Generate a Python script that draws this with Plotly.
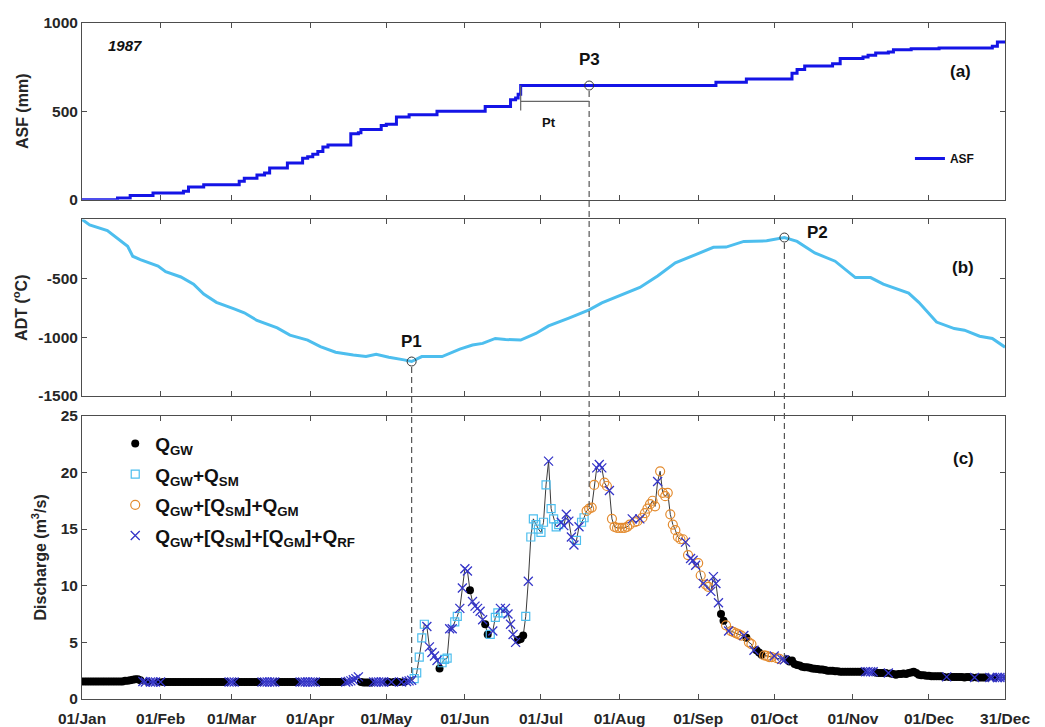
import pandas as pd
import plotly.graph_objects as go

# ---------------- DATA ----------------
YEAR_START = "1987-01-01"

# (a) Accumulated snowfall (ASF, mm): step changes (day-of-year index, value)
asf_day = [0, 14, 19, 28, 40, 42, 48, 62, 64, 69, 72, 74, 81, 87, 89, 91, 93, 95, 97, 106,
           109, 110, 118, 120, 124, 129, 140, 159, 169, 171, 172, 173, 250, 262, 280, 282, 285,
           296, 299, 308, 310, 313, 318, 320, 327, 338, 359, 361, 364]
asf_val = [0, 10, 24, 37, 47, 71, 84, 104, 121, 140, 151, 179, 207, 235, 243, 257, 272, 298, 310, 373,
           379, 397, 420, 427, 468, 481, 500, 528, 565, 575, 597, 646, 664, 683, 715, 737, 757,
           770, 799, 808, 817, 830, 836, 849, 854, 858, 869, 892, 897]

# (b) Accumulated degree temperature (ADT, °C)
adt_day = [0, 3, 10, 14, 18, 20, 23, 30, 33, 39, 44, 48, 53, 60, 64, 69, 77, 82, 89, 94,
           100, 107, 112, 116, 121, 127, 130, 134, 142, 149, 154, 158, 163, 167, 173, 179, 184, 192, 200, 205,
           213, 220, 227, 234, 242, 249, 254, 261, 270, 277, 282, 289, 297, 305, 311, 316, 326, 330, 337, 344,
           348, 354, 359, 364]
adt_val = [0, -47, -95, -159, -229, -313, -341, -397, -444, -489, -550, -634, -704, -760, -793, -858, -922, -983, -1025, -1081,
           -1128, -1151, -1165, -1145, -1170, -1193, -1207, -1165, -1165, -1101, -1067, -1053, -1011, -1020, -1025, -969, -905, -838, -768, -709,
           -642, -578, -480, -369, -299, -237, -235, -187, -182, -154, -187, -285, -355, -494, -494, -550, -626, -704, -872, -927,
           -941, -992, -1011, -1085]

# (c) Daily discharge (m3/s) by month, and the component class of each day
# G = Q_GW, S = Q_GW+Q_SM, M = Q_GW+[Q_SM]+Q_GM, R = Q_GW+[Q_SM]+[Q_GM]+Q_RF
q_jan = [1.55, 1.55, 1.55, 1.55, 1.55, 1.55, 1.55, 1.55, 1.55, 1.55, 1.55, 1.55, 1.55, 1.55, 1.55, 1.55,
         1.55, 1.6, 1.6, 1.65, 1.7, 1.75, 1.75, 1.65, 1.55, 1.5, 1.5, 1.5, 1.5, 1.5, 1.5]
q_feb = [1.5, 1.5, 1.5, 1.5, 1.5, 1.5, 1.5, 1.5, 1.5, 1.5, 1.5, 1.5, 1.5, 1.5, 1.5, 1.5, 1.5, 1.5, 1.5, 1.5,
         1.5, 1.5, 1.5, 1.5, 1.5, 1.5, 1.5, 1.5]
q_mar = [1.5, 1.5, 1.5, 1.5, 1.5, 1.5, 1.5, 1.5, 1.5, 1.5, 1.5, 1.5, 1.5, 1.5, 1.5, 1.5, 1.5, 1.5, 1.5, 1.5,
         1.5, 1.5, 1.5, 1.5, 1.5, 1.5, 1.5, 1.5, 1.5, 1.5, 1.5]
q_apr = [1.5, 1.5, 1.5, 1.5, 1.5, 1.5, 1.5, 1.5, 1.5, 1.5, 1.5, 1.5, 1.5, 1.5, 1.5, 1.55, 1.6, 1.7, 1.8, 1.95,
         1.5, 1.45, 1.45, 1.45, 1.45, 1.5, 1.5, 1.5, 1.5, 1.5]
q_may = [1.5, 1.5, 1.5, 1.5, 1.5, 1.5, 1.5, 1.5, 1.55, 1.6, 1.65, 1.8, 2.3, 3.7, 5.4, 6.6, 6.4, 4.6, 4.1, 3.8,
         3.4, 2.7, 3.2, 3.5, 3.6, 6.2, 6.2, 6.8, 7.3, 8.0, 9.8]
q_jun = [11.5, 11.3, 9.6, 8.6, 8.2, 8.0, 7.75, 7.0, 6.6, 5.7, 5.7, 6.0, 7.2, 7.6, 8.0, 7.6, 8.0, 7.5, 6.6, 5.7,
         5.0, 5.2, 5.3, 5.6, 7.3, 10.4, 14.3, 15.9, 15.4, 15.0]
q_jul = [14.7, 15.6, 18.9, 21.0, 16.8, 15.9, 15.2, 15.4, 15.6, 15.3, 16.3, 15.7, 14.3, 13.6, 14.0, 15.2, 15.6, 16.0, 16.6, 16.8,
         16.9, 18.9, 20.4, 20.7, 20.4, 19.1, 18.8, 18.4, 15.9, 15.2, 15.1]
q_aug = [15.1, 15.1, 15.1, 15.2, 15.4, 15.9, 15.6, 15.7, 15.9, 16.0, 16.4, 16.8, 17.2, 17.5, 17.0, 19.2, 20.1, 18.2, 17.9, 18.2,
         16.3, 15.4, 14.9, 14.3, 14.1, 14.1, 13.85, 12.7, 12.4, 12.25, 11.8]
q_sep = [12.0, 10.9, 10.2, 10.1, 9.9, 9.5, 10.8, 10.2, 8.5, 7.5, 6.9, 6.5, 6.0, 6.0, 5.9, 5.8, 5.7, 5.6, 5.6, 5.4,
         5.0, 4.85, 4.3, 4.3, 4.1, 3.9, 3.85, 3.8, 3.7, 3.7]
q_oct = [3.8, 3.6, 3.55, 3.5, 3.45, 3.5, 3.3, 3.4, 3.1, 3.0, 2.95, 2.85, 2.8, 2.8, 2.75, 2.7, 2.67, 2.65, 2.6, 2.6,
         2.55, 2.5, 2.5, 2.5, 2.45, 2.45, 2.4, 2.4, 2.4, 2.4, 2.4]
q_nov = [2.4, 2.4, 2.4, 2.4, 2.4, 2.4, 2.4, 2.4, 2.4, 2.35, 2.3, 2.3, 2.3, 2.3, 2.3, 2.25, 2.2, 2.15, 2.2, 2.2,
         2.25, 2.2, 2.3, 2.35, 2.4, 2.3, 2.15, 2.1, 2.1, 2.05]
q_dec = [2.05, 2.0, 2.0, 2.0, 2.0, 2.0, 1.95, 1.95, 1.95, 1.95, 1.95, 1.95, 1.95, 1.95, 1.9, 1.95, 1.95, 1.9, 1.9, 1.9,
         1.9, 1.9, 1.9, 1.9, 1.9, 1.9, 1.9, 1.9, 1.9, 1.9, 1.9]

c_jan = "GGGGGGGGGGGGGGGGGGGGGGGG" + "RRGRRRG"
c_feb = "RGGGGGGGGGGGGGGGGGGGGGGGGGGR"
c_mar = "RRGGGGGGGGGGRRRRRRGGGGGGGGGRRRR"
c_apr = "RRRGGGGGGGGGGGRRRRRRGGGGGRRRRR"
c_may = "GGRGGGRGRR" + "RSSSSSRRRR" + "RGSSSRRSSR" + "R"
c_jun = "RRGRRRRRGG" + "SRSSRSRRRR" + "RGGGSRSSSS"
c_jul = "SSSRSSSSRR" + "RRRRSRSSMM" + "MMRRRMMRMM" + "M"
c_aug = "MMMMMRMMRM" + "MMMMMRMMMM" + "MMMMMMRMRR" + "R"
c_sep = "MMRMMRRRRG" + "GMRMMMMMRG" + "MMRGGGMMMM"
c_oct = "RMMRRGGGGG" + "GGGGGGGGGG" + "GGGGGGGGGG" + "G"
c_nov = "GGGGGRRRRGGGGGRGGGGGGGGGGGGGGG"
c_dec = "GGGGGGGRGGGGGGGGGGRGGGGGRRGRRRR"

# Key points (day-of-year index)
p1_day, p2_day, p3_day = 130, 277, 200

month_ticks = ["1987-01-01", "1987-02-01", "1987-03-01", "1987-04-01", "1987-05-01", "1987-06-01",
               "1987-07-01", "1987-08-01", "1987-09-01", "1987-10-01", "1987-11-01", "1987-12-01", "1987-12-31"]
month_labels = ["01/Jan", "01/Feb", "01/Mar", "01/Apr", "01/May", "01/Jun",
                "01/Jul", "01/Aug", "01/Sep", "01/Oct", "01/Nov", "01/Dec", "31/Dec"]

# ---------------- BUILD ----------------
t0 = pd.Timestamp(YEAR_START)


def to_dates(days):
    return [t0 + pd.Timedelta(days=int(d)) for d in days]


q_vals = q_jan + q_feb + q_mar + q_apr + q_may + q_jun + q_jul + q_aug + q_sep + q_oct + q_nov + q_dec
q_cats = c_jan + c_feb + c_mar + c_apr + c_may + c_jun + c_jul + c_aug + c_sep + c_oct + c_nov + c_dec
q_dates = list(pd.date_range(YEAR_START, periods=len(q_vals), freq="D"))

FONT = "Arial, Liberation Sans, sans-serif"
AX = "#4d4d4d"
C_ASF = "#1414e6"
C_ADT = "#4dbeee"
C_SM = "#4dbeee"
C_GM = "#e38b2f"
C_RF = "#3535c8"

dom_a = [0.73869, 1.0]
dom_b = [0.44818, 0.70949]
dom_c = [0.0, 0.41898]
rng_a = [0, 1000]
rng_b = [-1500, 0]
rng_c = [0, 25]


def ypaper(v, dom, rng):
    return dom[0] + (v - rng[0]) / (rng[1] - rng[0]) * (dom[1] - dom[0])


fig = go.Figure()

# (a) ASF
fig.add_trace(go.Scatter(x=to_dates(asf_day), y=asf_val, mode="lines", line=dict(color=C_ASF, width=3, shape="hv"),
                         name="ASF", xaxis="x", yaxis="y", legend="legend"))
# (b) ADT
fig.add_trace(go.Scatter(x=to_dates(adt_day), y=adt_val, mode="lines", line=dict(color=C_ADT, width=3),
                         showlegend=False, xaxis="x2", yaxis="y2"))
# (c) discharge line
fig.add_trace(go.Scatter(x=q_dates, y=q_vals, mode="lines", line=dict(color="#3a3a3a", width=1),
                         showlegend=False, xaxis="x3", yaxis="y3"))

styles = [
    ("G", "Q<sub>GW</sub>", dict(symbol="circle", size=8, color="black", line=dict(width=0))),
    ("S", "Q<sub>GW</sub>+Q<sub>SM</sub>", dict(symbol="square-open", size=8, color=C_SM, line=dict(width=1.2))),
    ("M", "Q<sub>GW</sub>+[Q<sub>SM</sub>]+Q<sub>GM</sub>", dict(symbol="circle-open", size=9, color=C_GM, line=dict(width=1.2))),
    ("R", "Q<sub>GW</sub>+[Q<sub>SM</sub>]+[Q<sub>GM</sub>]+Q<sub>RF</sub>", dict(symbol="x-thin-open", size=9, color=C_RF, line=dict(width=1.3, color=C_RF))),
]
for code, label, mk in styles:
    xs = [d for d, c in zip(q_dates, q_cats) if c == code]
    ys = [v for v, c in zip(q_vals, q_cats) if c == code]
    fig.add_trace(go.Scatter(x=xs, y=ys, mode="markers", marker=mk, name=label,
                             xaxis="x3", yaxis="y3", legend="legend2", legendgroup=code))

# Key-point circles
asf_at_p3 = [v for d, v in zip(asf_day, asf_val) if d <= p3_day][-1]
adt_at_p1 = adt_val[adt_day.index(p1_day)]
adt_at_p2 = adt_val[adt_day.index(p2_day)]
fig.add_trace(go.Scatter(x=to_dates([p3_day]), y=[asf_at_p3], mode="markers",
                         marker=dict(symbol="circle-open", size=9, color="#333", line=dict(width=1)),
                         showlegend=False, xaxis="x", yaxis="y"))
fig.add_trace(go.Scatter(x=to_dates([p1_day, p2_day]), y=[adt_at_p1, adt_at_p2], mode="markers",
                         marker=dict(symbol="circle-open", size=9, color="#333", line=dict(width=1)),
                         showlegend=False, xaxis="x2", yaxis="y2"))

# Dashed connectors down to discharge
shapes = []
for day, top_v, top_dom, top_rng in [(p1_day, adt_at_p1, dom_b, rng_b), (p2_day, adt_at_p2, dom_b, rng_b),
                                     (p3_day, asf_at_p3, dom_a, rng_a)]:
    xd = to_dates([day])[0]
    y_top = ypaper(top_v, top_dom, top_rng) - 0.008
    y_bot = ypaper(q_vals[day], dom_c, rng_c)
    shapes.append(dict(type="line", xref="x", yref="paper", x0=xd, x1=xd, y0=y_top, y1=y_bot,
                       line=dict(color="#555", width=1.2, dash="6px,4px")))

# Pt bracket
pt_start = 173
shapes.append(dict(type="line", xref="x", yref="y", x0=to_dates([pt_start])[0], x1=to_dates([p3_day])[0],
                   y0=556, y1=556, line=dict(color="#666", width=1.2)))
shapes.append(dict(type="line", xref="x", yref="y", x0=to_dates([pt_start])[0], x1=to_dates([pt_start])[0],
                   y0=646, y1=505, line=dict(color="#666", width=1.2)))

bold = dict(family=FONT, color="#111", weight="bold")
ann_common = dict(showarrow=False, xanchor="center", yanchor="middle")
annotations = [
    dict(text="1987", xref="x domain", yref="y domain", x=0.047, y=0.87,
         font=dict(family=FONT, size=15, color="#111", weight="bold", style="italic"), **ann_common),
    dict(text="(a)", xref="x domain", yref="y domain", x=0.952, y=0.725, font=dict(size=17, **bold), **ann_common),
    dict(text="(b)", xref="x2 domain", yref="y2 domain", x=0.955, y=0.725, font=dict(size=17, **bold), **ann_common),
    dict(text="(c)", xref="x3 domain", yref="y3 domain", x=0.955, y=0.85, font=dict(size=17, **bold), **ann_common),
    dict(text="P3", xref="x", yref="y", x=to_dates([p3_day])[0], y=795, font=dict(size=17, **bold), **ann_common),
    dict(text="P1", xref="x2", yref="y2", x=to_dates([p1_day])[0], y=-1040, font=dict(size=17, **bold), **ann_common),
    dict(text="P2", xref="x2", yref="y2", x=to_dates([290])[0], y=-115, font=dict(size=17, **bold), **ann_common),
    dict(text="Pt", xref="x", yref="y", x=to_dates([184])[0], y=436, font=dict(size=13, **bold), **ann_common),
]

xr = [t0, pd.Timestamp("1987-12-31")]
tickfont = dict(family=FONT, size=15.5, color="#262626", weight="bold")
ax_common = dict(showline=True, linecolor=AX, linewidth=1, mirror="ticks", ticks="inside", ticklen=5,
                 tickcolor=AX, showgrid=False, zeroline=False, tickfont=tickfont)


def tfont(size):
    return dict(family=FONT, size=size, color="#262626", weight="bold")


fig.update_layout(
    width=1045, height=727,
    margin=dict(l=74, r=48, t=6, b=36),
    plot_bgcolor="white", paper_bgcolor="white",
    font=dict(family=FONT),
    xaxis=dict(domain=[0, 1], range=xr, anchor="y", tickvals=month_ticks, showticklabels=False, **ax_common),
    xaxis2=dict(domain=[0, 1], range=xr, anchor="y2", matches="x", tickvals=month_ticks, showticklabels=False, **ax_common),
    xaxis3=dict(domain=[0, 1], range=xr, anchor="y3", matches="x", tickvals=month_ticks, ticktext=month_labels,
                ticklabelstandoff=5, **ax_common),
    yaxis=dict(domain=dom_a, range=rng_a, anchor="x", tickvals=[0, 500, 1000],
               title=dict(text="ASF (mm)", font=tfont(16), standoff=10), **ax_common),
    yaxis2=dict(domain=dom_b, range=rng_b, anchor="x2", tickvals=[-1500, -1000, -500, 0],
                ticktext=["-1500", "-1000", "-500", ""],
                title=dict(text="ADT (<sup>o</sup>C)", font=tfont(16), standoff=6), **ax_common),
    yaxis3=dict(domain=dom_c, range=rng_c, anchor="x3", tickvals=[0, 5, 10, 15, 20, 25],
                title=dict(text="Discharge (m<sup>3</sup>/s)", font=tfont(16), standoff=10), **ax_common),
    legend=dict(x=0.897, y=0.821, xanchor="left", yanchor="top", bgcolor="rgba(0,0,0,0)",
                font=dict(family=FONT, size=12, color="#111", weight="bold")),
    legend2=dict(x=0.036, y=0.406, xanchor="left", yanchor="top", bgcolor="rgba(0,0,0,0)",
                 font=dict(family=FONT, size=19, color="#111", weight="bold"), tracegroupgap=3),
    shapes=shapes,
    annotations=annotations,
)

fig.write_html("out.html")
